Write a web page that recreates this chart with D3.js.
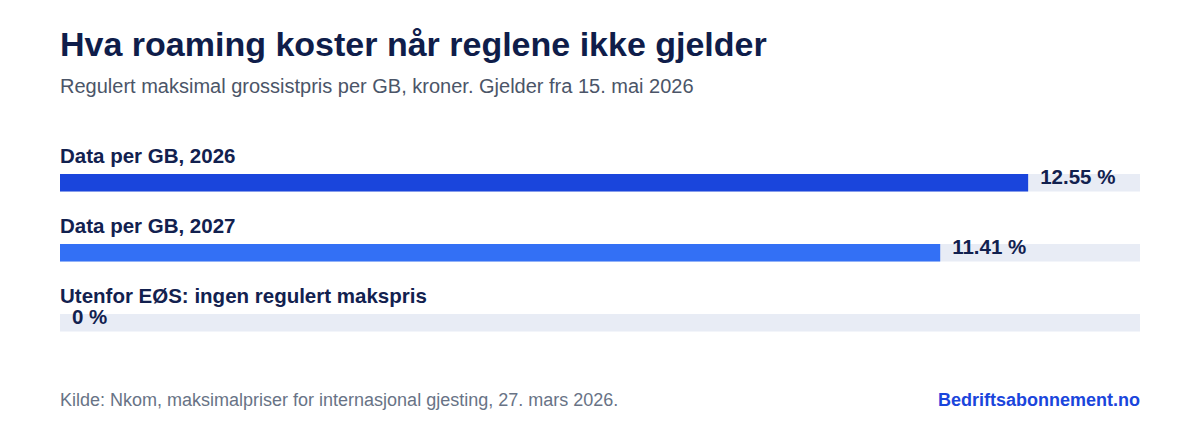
<!DOCTYPE html>
<html>
<head>
<meta charset="utf-8">
<script src="https://cdn.jsdelivr.net/npm/d3@7"></script>
<style>
    body { margin: 0; background: #fff; }
    svg { display: block; font-family: "Liberation Sans", Arial, Helvetica, sans-serif; }
</style>
</head>
<body>
<div id="chart"></div>
<script>
    // Data
    var categories = ['Data per GB, 2026', 'Data per GB, 2027', 'Utenfor EØS: ingen regulert makspris'];
    var values = [12.55, 11.41, 0];
    var valueLabels = ['12.55 %', '11.41 %', '0 %'];
    var barColors = ['#1a45dc', '#3370f5', '#3370f5'];
    var domainMax = 14;

    var width = 1200,
        height = 440,
        margin = { left: 60, right: 60 };

    var svg = d3.select('#chart').append('svg')
        .attr('width', width)
        .attr('height', height);

    // Title and subtitle
    svg.append('text')
        .attr('x', margin.left).attr('y', 56)
        .style('font-size', '34px').style('font-weight', 'bold')
        .style('fill', '#0f1d4a')
        .text('Hva roaming koster når reglene ikke gjelder');
    svg.append('text')
        .attr('x', margin.left).attr('y', 93)
        .style('font-size', '20px')
        .style('fill', '#4b5568')
        .text('Regulert maksimal grossistpris per GB, kroner. Gjelder fra 15. mai 2026');

    // Scales
    var xScale = d3.scaleLinear().domain([0, domainMax]).range([margin.left, width - margin.right]);
    var yScale = d3.scaleBand().domain(categories).range([174, 384]).paddingInner(0).paddingOuter(0);
    var barH = 17.5;

    var rows = svg.append('g').attr('class', 'bars')
        .selectAll('g').data(categories).enter()
        .append('g')
        .attr('transform', function(d) { return 'translate(0,' + yScale(d) + ')'; });

    // Background track
    rows.append('rect')
        .attr('x', xScale(0))
        .attr('y', 0)
        .attr('width', xScale(domainMax) - xScale(0))
        .attr('height', barH)
        .attr('fill', '#e8ecf5');

    // Value bar
    rows.append('rect')
        .attr('x', xScale(0))
        .attr('y', 0)
        .attr('width', function(d, i) { return xScale(values[i]) - xScale(0); })
        .attr('height', barH)
        .attr('fill', function(d, i) { return barColors[i]; });

    // Category label
    rows.append('text')
        .attr('x', xScale(0))
        .attr('y', -11)
        .style('font-size', '20.5px').style('font-weight', 'bold')
        .style('fill', '#12214f')
        .text(function(d) { return d; });

    // Value label
    rows.append('text')
        .attr('x', function(d, i) { return xScale(values[i]) + 12; })
        .attr('y', 9.5)
        .style('font-size', '20.5px').style('font-weight', 'bold')
        .style('fill', '#12214f')
        .text(function(d, i) { return valueLabels[i]; });

    // Footer
    svg.append('text')
        .attr('x', margin.left).attr('y', 406)
        .style('font-size', '18px')
        .style('fill', '#687386')
        .text('Kilde: Nkom, maksimalpriser for internasjonal gjesting, 27. mars 2026.');
    svg.append('text')
        .attr('x', width - margin.right).attr('y', 406)
        .attr('text-anchor', 'end')
        .style('font-size', '18px').style('font-weight', 'bold')
        .style('fill', '#1a45dc')
        .text('Bedriftsabonnement.no');
</script>
</body>
</html>
